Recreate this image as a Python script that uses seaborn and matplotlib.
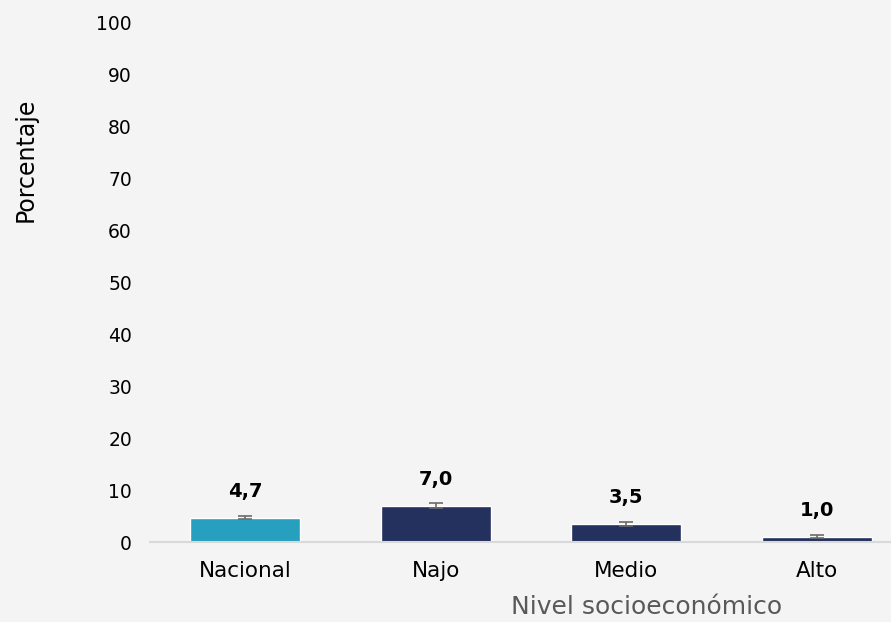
import pandas as pd
import matplotlib.pyplot as plt
import seaborn as sns

# Data
categories = ['Nacional', 'Najo', 'Medio', 'Alto']
values = [4.7, 7.0, 3.5, 1.0]
errors = [0.3, 0.5, 0.4, 0.3]
bar_colors = ['#279FBF', '#24305E', '#24305E', '#24305E']

df = pd.DataFrame({'nivel': categories, 'pct': values})

sns.set_style("white")
plt.rcParams['font.family'] = ['DejaVu Sans']

fig = plt.figure(figsize=(8.91, 6.22), dpi=100)
fig.patch.set_facecolor('#F4F4F4')
ax = fig.add_axes([150 / 891, 1 - 542 / 622, 741 / 891, (542 - 23) / 622])
ax.set_facecolor('#F4F4F4')

sns.barplot(x='nivel', y='pct', data=df, hue='nivel', palette=bar_colors,
            width=0.58, errorbar=None, legend=False, ax=ax, saturation=1)

# Error bars
ax.errorbar(range(len(categories)), values, yerr=errors, fmt='none',
            ecolor='#6B6B6B', elinewidth=1.2, capsize=5, capthick=1.2)

# Value labels
for i, v in enumerate(values):
    ax.annotate(f"{v:.1f}".replace('.', ','), (i, v),
                textcoords="offset points", xytext=(0, 12),
                ha='center', va='bottom', fontsize=14, fontweight='bold',
                color='black')

ax.set_ylim(0, 100)
ax.set_yticks(range(0, 101, 10))
ax.set_xlim(-0.5, -0.5 + 741 / 190.5)

for s in ['top', 'right', 'left']:
    ax.spines[s].set_visible(False)
ax.spines['bottom'].set_color('#D9D9D9')
ax.spines['bottom'].set_linewidth(1.5)

ax.tick_params(axis='y', length=0, labelsize=13.5, pad=13, labelcolor='black')
ax.tick_params(axis='x', length=0, labelsize=15.5, pad=14, labelcolor='black')

ax.set_xlabel('Nivel socioeconómico', fontsize=18, color='#595959', labelpad=0)
ax.xaxis.set_label_coords((647 - 150) / 741, -0.125)
ax.xaxis.label.set_va('center')
ax.set_ylabel('Porcentaje', fontsize=17, color='black')
ax.yaxis.set_label_coords(-0.151, 0.736)

plt.savefig('out.png', dpi=100, facecolor=fig.get_facecolor())
